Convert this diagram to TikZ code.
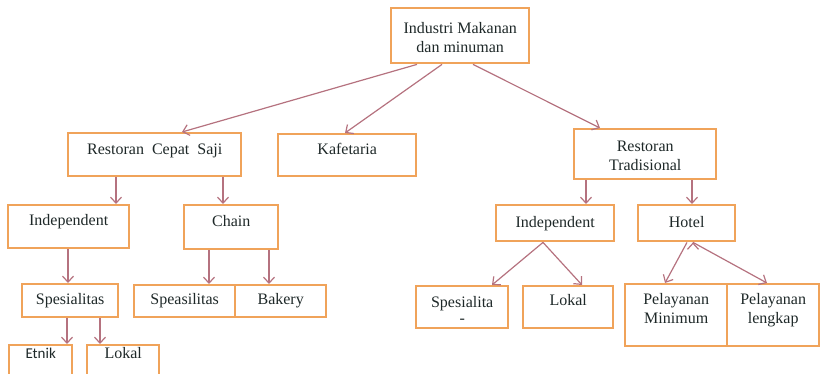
\documentclass[tikz,border=0pt]{standalone}
\usepackage{fontspec}
\setmainfont{Liberation Serif}
\newfontfamily\etnikfont{Carlito}
\usepackage{tikz}
\usetikzlibrary{arrows.meta}
\definecolor{boxedge}{HTML}{F0A35A}
\definecolor{arrowline}{HTML}{B5727F}
\definecolor{textgray}{HTML}{1E2828}

\begin{document}
\begin{tikzpicture}[x=1pt,y=-1pt,
  box/.style={draw=boxedge,line width=2.4pt,anchor=north west,inner sep=0pt,
    align=center,text=textgray,font=\fontsize{16}{19.5}\selectfont},
  arr/.style={->,>={Straight Barb[length=6pt,width=11pt]},draw=arrowline,line width=1.2pt}]

\useasboundingbox (0,0) rectangle (820,374);

% level 0 and 1
\node[box,minimum width=138pt,text height=44.5pt,text depth=10.5pt] (top) at (390,7) {Industri Makanan\\dan minuman};
\node[box,minimum width=173pt,text height=21pt,text depth=22pt] (rcs) at (67,132) {Restoran\ \ Cepat\ \ Saji};
\node[box,minimum width=138pt,text height=20pt,text depth=22pt] (kaf) at (277,133) {Kafetaria};
\node[box,minimum width=142pt,text height=41.5pt,text depth=8.5pt] (rt) at (573,128) {Restoran\\Tradisional};

% level 2
\node[box,minimum width=121pt,text height=20pt,text depth=23pt] (indL) at (7,204) {Independent};
\node[box,minimum width=94pt,text height=21pt,text depth=23pt] (chain) at (183,204) {Chain};
\node[box,minimum width=118pt,text height=22pt,text depth=14pt] (indR) at (495,204) {Independent};
\node[box,minimum width=97pt,text height=22pt,text depth=14pt] (hotel) at (637,204) {Hotel};

% level 3
\node[box,minimum width=96pt,text height=20pt,text depth=13pt] (spes) at (21,283) {Spesialitas};
\node[box,minimum width=101pt,text height=19pt,text depth=13pt] (speas) at (133,284) {Speasilitas};
\node[box,minimum width=91pt,text height=19pt,text depth=13pt] (bakery) at (234,284) {Bakery};
\node[box,minimum width=92pt,text height=37pt,text depth=5pt] (spesR) at (415,285) {Spesialita\\[-3.5pt]-};
\node[box,minimum width=90pt,text height=19pt,text depth=23pt] (lokalR) at (522,285) {Lokal};
\node[box,minimum width=102pt,text height=39.5pt,text depth=22.5pt] (pmin) at (624,283) {Pelayanan\\Minimum};
\node[box,minimum width=92pt,text height=39.5pt,text depth=22.5pt] (plen) at (726,283) {Pelayanan\\lengkap};

% level 4
\node[box,minimum width=63pt,text height=13pt,text depth=27pt,font=\etnikfont\fontsize{15}{18}\selectfont] (etnik) at (8,344) {Etnik};
\node[box,minimum width=72pt,text height=13pt,text depth=27pt] (lokalL) at (86,344) {Lokal};

\path[arr]
([xshift=27pt]top.south west) edge ([xshift=115pt]rcs.north west)
([xshift=52pt]top.south west) edge ([xshift=68pt]kaf.north west)
([xshift=83pt]top.south west) edge ([xshift=27pt]rt.north west)
([xshift=49pt]rcs.south west) edge ([xshift=109pt]indL.north west)
([xshift=156pt]rcs.south west) edge ([xshift=40pt]chain.north west)
([xshift=61pt]indL.south west) edge ([xshift=47pt]spes.north west)
([xshift=26pt]chain.south west) edge ([xshift=76pt]speas.north west)
([xshift=86pt]chain.south west) edge ([xshift=35pt]bakery.north west)
([xshift=46pt]spes.south west) edge ([xshift=59pt]etnik.north west)
([xshift=79pt]spes.south west) edge ([xshift=14pt]lokalL.north west)
([xshift=13pt]rt.south west) edge ([xshift=91pt]indR.north west)
([xshift=119pt]rt.south west) edge ([xshift=55pt]hotel.north west)
([xshift=48pt]indR.south west) edge ([xshift=77pt]spesR.north west)
([xshift=48pt]indR.south west) edge ([xshift=60pt]lokalR.north west)
([xshift=50pt]hotel.south west) edge ([xshift=41pt]pmin.north west)
([xshift=56pt]hotel.south west) edge ([xshift=41pt]plen.north west);
\end{tikzpicture}
\end{document}
